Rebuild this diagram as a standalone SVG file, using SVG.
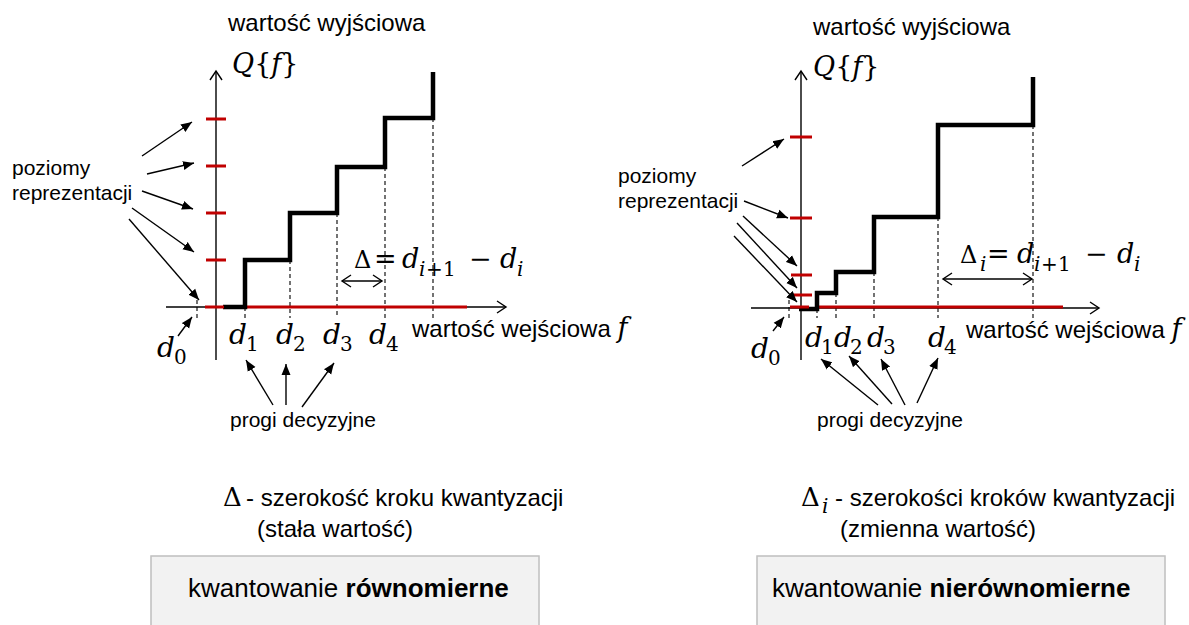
<svg xmlns="http://www.w3.org/2000/svg" width="1189" height="625" viewBox="0 0 1189 625">
  <style>
    .txt { font-family: "Liberation Sans", Arial, sans-serif; fill: #000; }
    .math { font-family: "DejaVu Serif", "Liberation Serif", serif; font-style: italic; fill: #000; }
    .up { font-style: normal; }
    .axis { stroke: #000; stroke-width: 1.4; fill: none; }
    .stair { stroke: #000; stroke-width: 4.5; fill: none; stroke-linejoin: miter; }
    .red { stroke: #c00000; stroke-width: 3; fill: none; }
    .dash { stroke: #000; stroke-width: 1.1; stroke-dasharray: 4 3; fill: none; }
    .ptr { stroke: #000; stroke-width: 1.4; fill: none; marker-end: url(#tri); }
    .dim { stroke: #000; stroke-width: 1.4; fill: none; marker-start: url(#open); marker-end: url(#open); }
    .box { fill: #f2f2f2; stroke: #bfbfbf; stroke-width: 1.5; }
  </style>
  <defs>
    <marker id="open" markerUnits="userSpaceOnUse" markerWidth="14" markerHeight="16" refX="11" refY="8" orient="auto-start-reverse">
      <path d="M2,2 L11,8 L2,14" fill="none" stroke="#000" stroke-width="1.4"/>
    </marker>
    <marker id="tri" markerUnits="userSpaceOnUse" markerWidth="12" markerHeight="10" refX="11" refY="5" orient="auto">
      <path d="M0,0.5 L11,5 L0,9.5 z" fill="#000"/>
    </marker>
  </defs>

  <!-- ===== uniform quantizer ===== -->
  <g id="uniform-axes">
    <line class="axis" x1="216" y1="360" x2="216" y2="71" marker-end="url(#open)"/>
    <line class="axis" x1="166" y1="307" x2="506" y2="307" marker-end="url(#open)"/>
    <text class="txt" x="228" y="31" font-size="24">wartość wyjściowa</text>
    <text class="math" x="232" y="73" font-size="27">Q<tspan class="up">{</tspan>f<tspan class="up">}</tspan></text>
    <text class="txt" x="412" y="337" font-size="24">wartość wejściowa <tspan class="math" font-size="27">f</tspan></text>
  </g>

  <g id="uniform-thresholds">
    <line class="dash" x1="197" y1="300" x2="197" y2="318"/>
    <line class="dash" x1="245" y1="307" x2="245" y2="318"/>
    <line class="dash" x1="290" y1="260" x2="290" y2="318"/>
    <line class="dash" x1="337" y1="213" x2="337" y2="318"/>
    <line class="dash" x1="385" y1="167" x2="385" y2="318"/>
    <line class="dash" x1="433" y1="118" x2="433" y2="318"/>
    <text class="math" font-size="28" x="157" y="357">d<tspan font-size="20" class="up" x="174" y="364">0</tspan></text>
    <text class="math" font-size="28" x="229" y="344">d<tspan font-size="20" class="up" x="246" y="351">1</tspan></text>
    <text class="math" font-size="28" x="276" y="344">d<tspan font-size="20" class="up" x="293" y="351">2</tspan></text>
    <text class="math" font-size="28" x="323" y="344">d<tspan font-size="20" class="up" x="340" y="351">3</tspan></text>
    <text class="math" font-size="28" x="369" y="344">d<tspan font-size="20" class="up" x="386" y="351">4</tspan></text>
  </g>

  <g id="uniform-levels">
    <line class="red" x1="246" y1="307" x2="467" y2="307"/>
    <path class="stair" d="M223,307 H245 V260 H290 V213 H337 V167 H385 V118 H433 V72"/>
    <line class="red" x1="205" y1="307" x2="224" y2="307"/>
    <line class="red" x1="206" y1="260" x2="226" y2="260"/>
    <line class="red" x1="206" y1="213" x2="226" y2="213"/>
    <line class="red" x1="206" y1="166" x2="226" y2="166"/>
    <line class="red" x1="206" y1="119" x2="226" y2="119"/>
  </g>

  <g id="uniform-step">
    <text class="math" font-size="27" y="268"><tspan class="up" font-size="24" x="354">Δ</tspan><tspan class="up" x="374">=</tspan><tspan x="402">d</tspan><tspan font-size="20" x="419" y="276">i</tspan><tspan class="up" font-size="20" x="426" y="276">+</tspan><tspan class="up" font-size="20" x="443" y="276">1</tspan><tspan class="up" x="469" y="268">−</tspan><tspan x="500" y="268">d</tspan><tspan font-size="20" x="517" y="276">i</tspan></text>
  </g>

  <g id="uniform-notes">
    <text class="txt" x="12" y="175" font-size="21">poziomy</text>
    <text class="txt" x="12" y="200" font-size="21">reprezentacji</text>
    <text class="txt" x="230" y="427" font-size="21">progi decyzyjne</text>
    <text class="math up" x="223" y="506" font-size="26">Δ</text>
    <text class="txt" x="246" y="506" font-size="24">- szerokość kroku kwantyzacji</text>
    <text class="txt" x="257" y="537" font-size="24">(stała wartość)</text>
  </g>

  <g id="uniform-label">
    <rect class="box" x="151" y="556" width="388" height="90"/>
    <text class="txt" x="188" y="597" font-size="26">kwantowanie <tspan font-weight="bold">równomierne</tspan></text>
  </g>

  <!-- ===== non-uniform quantizer ===== -->
  <g id="nonuniform-axes">
    <line class="axis" x1="801" y1="360" x2="801" y2="71" marker-end="url(#open)"/>
    <line class="axis" x1="751" y1="308" x2="1099" y2="308" marker-end="url(#open)"/>
    <text class="txt" x="813" y="35" font-size="24">wartość wyjściowa</text>
    <text class="math" x="813" y="76" font-size="27">Q<tspan class="up">{</tspan>f<tspan class="up">}</tspan></text>
    <text class="txt" x="966" y="338" font-size="24">wartość wejściowa <tspan class="math" font-size="27">f</tspan></text>
  </g>

  <g id="nonuniform-thresholds">
    <line class="dash" x1="789" y1="300" x2="789" y2="318"/>
    <line class="dash" x1="817" y1="309" x2="817" y2="318"/>
    <line class="dash" x1="836" y1="293" x2="836" y2="318"/>
    <line class="dash" x1="874" y1="272" x2="874" y2="318"/>
    <line class="dash" x1="938" y1="217" x2="938" y2="318"/>
    <line class="dash" x1="1033" y1="125" x2="1033" y2="318"/>
    <text class="math" font-size="28" x="751" y="358">d<tspan font-size="20" class="up" x="768" y="365">0</tspan></text>
    <text class="math" font-size="28" x="805" y="347">d<tspan font-size="20" class="up" x="821" y="354">1</tspan></text>
    <text class="math" font-size="28" x="834" y="347">d<tspan font-size="20" class="up" x="850" y="354">2</tspan></text>
    <text class="math" font-size="28" x="867" y="347">d<tspan font-size="20" class="up" x="883" y="354">3</tspan></text>
    <text class="math" font-size="28" x="928" y="347">d<tspan font-size="20" class="up" x="944" y="354">4</tspan></text>
  </g>

  <g id="nonuniform-levels">
    <line class="red" x1="819" y1="307" x2="1063" y2="307"/>
    <path class="stair" d="M799,309 H817 V293 H836 V272 H874 V217 H938 V125 H1033 V77"/>
    <line class="red" x1="790" y1="307" x2="809" y2="307"/>
    <line class="red" x1="791" y1="295" x2="812" y2="295"/>
    <line class="red" x1="791" y1="275" x2="812" y2="275"/>
    <line class="red" x1="790" y1="218" x2="812" y2="218"/>
    <line class="red" x1="790" y1="137" x2="812" y2="137"/>
  </g>

  <g id="nonuniform-step">
    <text class="math" font-size="27" y="263"><tspan class="up" font-size="24" x="960">Δ</tspan><tspan font-size="20" x="980" y="271">i</tspan><tspan class="up" x="987" y="263">=</tspan><tspan x="1017" y="263">d</tspan><tspan font-size="20" x="1034" y="271">i</tspan><tspan class="up" font-size="20" x="1041" y="271">+</tspan><tspan class="up" font-size="20" x="1058" y="271">1</tspan><tspan class="up" x="1085" y="263">−</tspan><tspan x="1117" y="263">d</tspan><tspan font-size="20" x="1134" y="271">i</tspan></text>
  </g>

  <g id="nonuniform-notes">
    <text class="txt" x="618" y="183" font-size="21">poziomy</text>
    <text class="txt" x="618" y="208" font-size="21">reprezentacji</text>
    <text class="txt" x="817" y="427" font-size="21">progi decyzyjne</text>
    <text class="math" font-size="26" y="506"><tspan class="up" x="801">Δ</tspan><tspan font-size="20" x="822" y="513">i</tspan></text>
    <text class="txt" x="835" y="506" font-size="24">- szerokości kroków kwantyzacji</text>
    <text class="txt" x="840" y="537" font-size="24">(zmienna wartość)</text>
  </g>

  <g id="nonuniform-label">
    <rect class="box" x="757" y="556" width="408" height="90"/>
    <text class="txt" x="772" y="597" font-size="26">kwantowanie <tspan font-weight="bold">nierównomierne</tspan></text>
  </g>

  <!-- pointer arrows and step-width dimensions -->
  <g id="connectors">
    <line class="ptr" x1="142" y1="156" x2="192" y2="122"/>
    <line class="ptr" x1="147" y1="174" x2="194" y2="163"/>
    <line class="ptr" x1="142" y1="191" x2="193" y2="209"/>
    <line class="ptr" x1="132" y1="208" x2="194" y2="252"/>
    <line class="ptr" x1="129" y1="219" x2="199" y2="300"/>
    <line class="ptr" x1="178" y1="336" x2="192" y2="317"/>
    <line class="ptr" x1="273" y1="405" x2="246" y2="360"/>
    <line class="ptr" x1="286" y1="405" x2="286" y2="364"/>
    <line class="ptr" x1="302" y1="407" x2="334" y2="363"/>
    <line class="dim" x1="342" y1="281" x2="382" y2="281"/>

    <line class="ptr" x1="742" y1="166" x2="784" y2="139"/>
    <line class="ptr" x1="744" y1="201" x2="788" y2="218"/>
    <line class="ptr" x1="743" y1="216" x2="797" y2="266"/>
    <line class="ptr" x1="737" y1="223" x2="797" y2="288"/>
    <line class="ptr" x1="734" y1="236" x2="797" y2="302"/>
    <line class="ptr" x1="773" y1="331" x2="784" y2="317"/>
    <line class="ptr" x1="878" y1="405" x2="821" y2="359"/>
    <line class="ptr" x1="892" y1="404" x2="849" y2="356"/>
    <line class="ptr" x1="905" y1="405" x2="881" y2="359"/>
    <line class="ptr" x1="917" y1="403" x2="938" y2="358"/>
    <line class="dim" x1="943" y1="279" x2="1032" y2="279"/>
  </g>
</svg>
